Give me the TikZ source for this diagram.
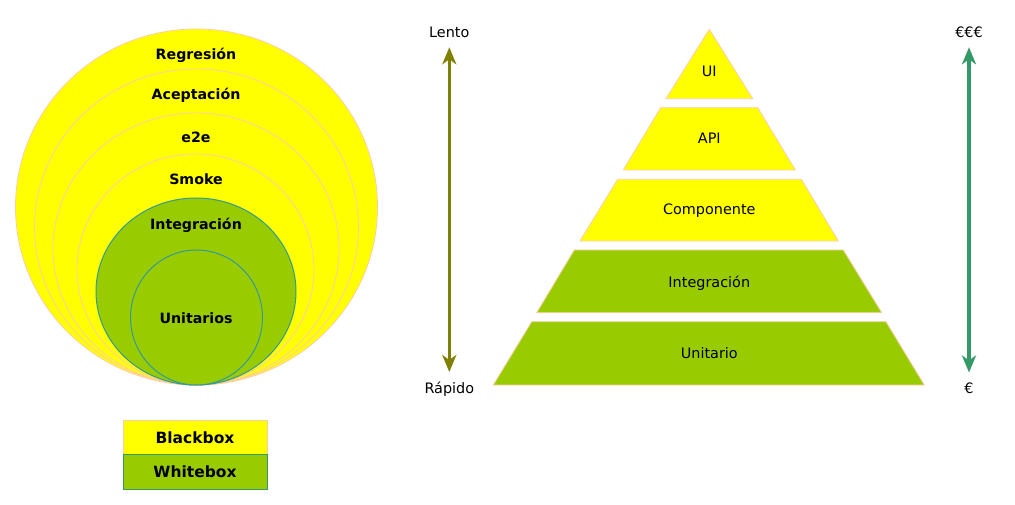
\documentclass[tikz,border=0pt]{standalone}
\usepackage{fontspec}
\setmainfont{DejaVu Sans}
\usetikzlibrary{arrows.meta}
\definecolor{yel}{HTML}{FFFF00}
\definecolor{grn}{HTML}{99CC00}
\definecolor{yedge}{HTML}{FFCCAA}
\definecolor{gedge}{HTML}{339999}
\definecolor{olivec}{HTML}{808000}
\definecolor{seag}{HTML}{339966}
\tikzset{
  ycirc/.style={fill=yel, draw=yedge, line width=0.8pt},
  gcirc/.style={fill=grn, draw=gedge, line width=1pt},
  ylayer/.style={fill=yel, draw=yedge, line width=0.8pt},
  glayer/.style={fill=grn, draw=yedge, line width=0.8pt},
  blab/.style={font=\fontsize{14.2}{17}\selectfont\bfseries, anchor=base, inner sep=0pt},
  rlab/.style={font=\fontsize{14.4}{17}\selectfont, anchor=base, inner sep=0pt},
  leg/.style={minimum width=144pt, minimum height=34pt, inner sep=0pt, font=\fontsize{15.5}{18}\selectfont\bfseries},
  dbl/.style={line width=3.5pt, {Stealth[length=17pt,width=14pt,inset=5pt]}-{Stealth[length=17pt,width=14pt,inset=5pt]}, shorten <=0pt, shorten >=0pt}
}
\begin{document}
\begin{tikzpicture}[x=1pt,y=-1pt]
\useasboundingbox (0,0) rectangle (1015,505);
% nested circles
\draw[ycirc] (196.5,207) ellipse [x radius=181, y radius=178];
\draw[ycirc] (196.5,227) ellipse [x radius=162, y radius=158];
\draw[ycirc] (196,249) ellipse [x radius=143, y radius=136];
\draw[ycirc] (195.5,269.5) ellipse [x radius=118.5, y radius=115.5];
\draw[gcirc] (196,291.5) ellipse [x radius=100, y radius=93.5];
\draw[gcirc] (196.5,317.5) ellipse [x radius=66, y radius=67.5];
\node[blab] (regresion) at (196,60) {Regresión};
\node[blab] (aceptacion) at (196,100) {Aceptación};
\node[blab] (e2e) at (196,142.5) {e2e};
\node[blab] (smoke) at (196,184.5) {Smoke};
\node[blab] (integc) at (196,229.5) {Integración};
\node[blab] (unitc) at (196,323.5) {Unitarios};
% legend
\node[leg, fill=yel, draw=yedge, line width=0.8pt] (blackbox) at (195,437.5) {Blackbox};
\node[leg, fill=grn, draw=seag, line width=0.8pt, minimum height=35pt] (whitebox) at (195,471.8) {Whitebox};
% left arrow
\node[rlab] (lento) at (449.3,37.5) {Lento};
\node[rlab] (rapido) at (449.3,393.5) {Rápido};
\coordinate (ltop) at (449.3,47.3);
\coordinate (lbot) at (449.3,372);
\draw[dbl, draw=olivec, fill=olivec] (ltop) -- (lbot);
% right arrow
\node[rlab] (eee) at (969,37.5) {€€€};
\node[rlab] (e1) at (969,393.5) {€};
\coordinate (rtop) at (969,47.3);
\coordinate (rbot) at (969,372.5);
\draw[dbl, draw=seag, fill=seag] (rtop) -- (rbot);
% pyramid
\draw[ylayer] (709.3,29.3) -- (752.7,98.7) -- (666,98.7) -- cycle;
\draw[ylayer] (660.7,107.7) -- (757.7,107.7) -- (795.3,170) -- (623.3,170) -- cycle;
\draw[ylayer] (617.7,179.3) -- (801.3,179.3) -- (838.3,241) -- (580,241) -- cycle;
\draw[glayer] (574.3,250) -- (843.3,250) -- (881.7,312.7) -- (536.7,312.7) -- cycle;
\draw[glayer] (531.7,321.7) -- (886,321.7) -- (924.3,385) -- (493.3,385) -- cycle;
\node[rlab] (ui) at (709.3,76.5) {UI};
\node[rlab] (api) at (709.3,143.2) {API};
\node[rlab] (comp) at (709.3,214.5) {Componente};
\node[rlab] (integp) at (709.3,287.5) {Integración};
\node[rlab] (unitp) at (709.3,358.2) {Unitario};
\end{tikzpicture}
\end{document}
